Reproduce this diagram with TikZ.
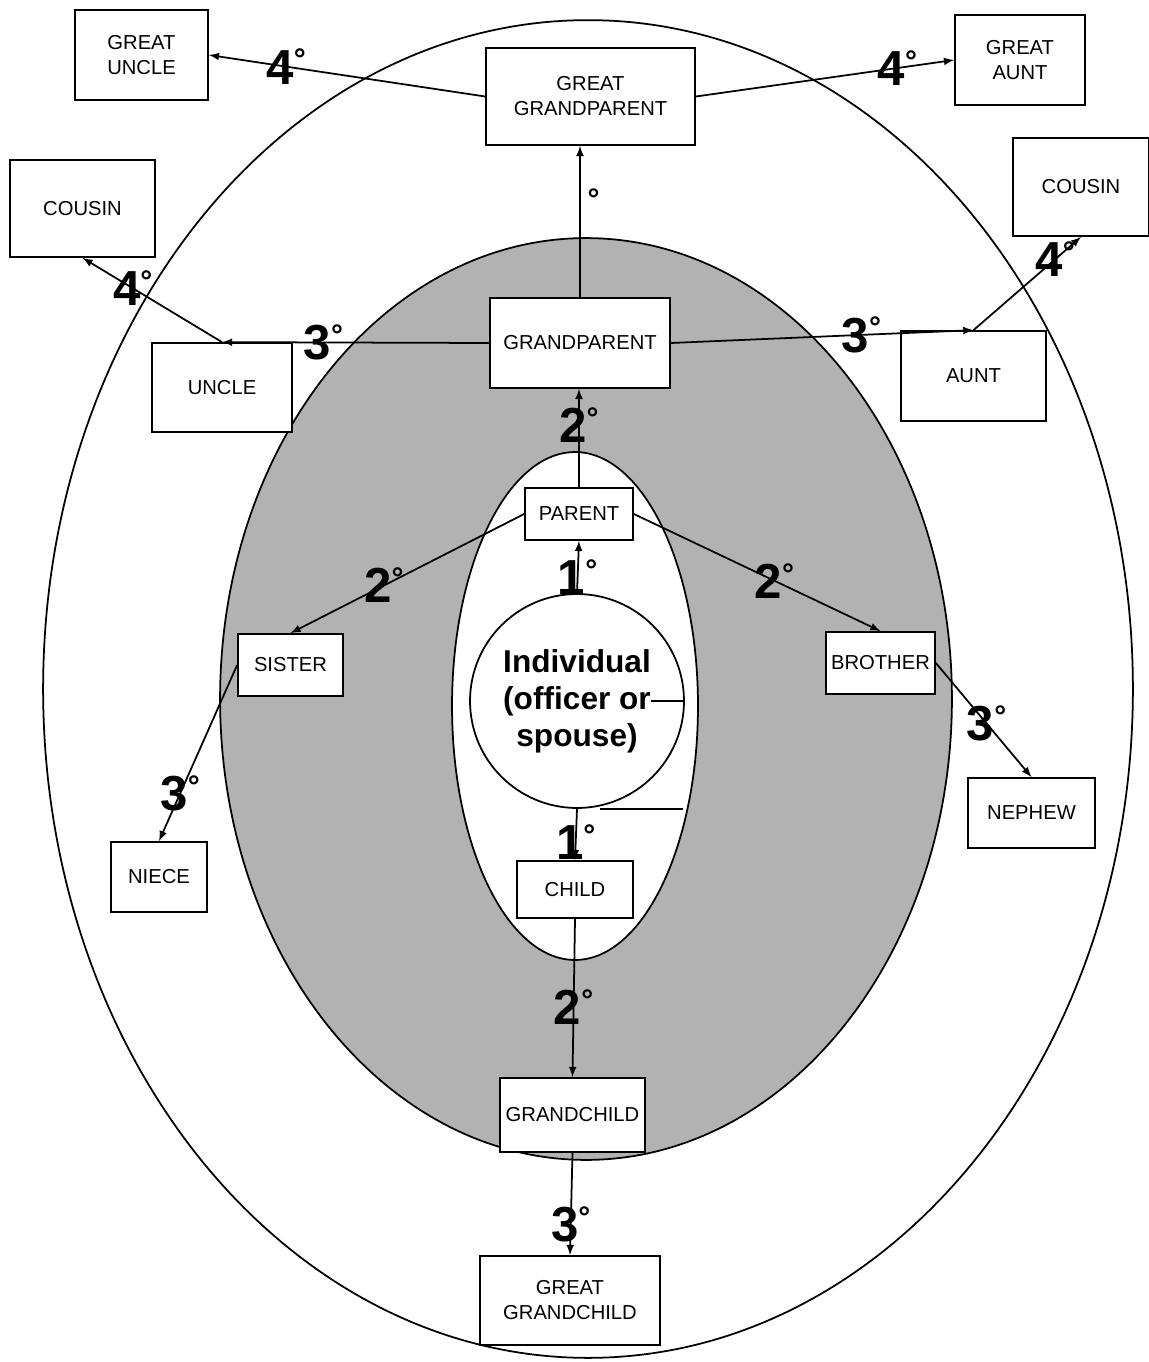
\documentclass[tikz,border=0pt]{standalone}
\usepackage{fontspec}
\setmainfont{Liberation Sans}
\usepackage{tikz}
\usetikzlibrary{arrows,shapes,calc,positioning}
\newcommand{\dgr}{\raisebox{8pt}{\fontsize{17}{17}\selectfont °}}

\begin{document}
\begin{tikzpicture}[x=0.02cm,y=-0.02cm]

        \tikzstyle{kin}=[draw,fill=white,line width=1pt,inner sep=0pt,align=center,font=\fontsize{11.5}{14.2}\selectfont]
        \tikzstyle{deg}=[font=\fontsize{28}{28}\selectfont\bfseries,inner sep=0pt]
        \tikzstyle{link}=[->,>=latex,line width=1pt]

        \useasboundingbox (0,0) rectangle (1149,1362);

        \draw[line width=1pt] (588,689) ellipse [x radius=10.9cm, y radius=13.38cm];
        \draw[line width=1pt,fill=black!30] (586,699) ellipse [x radius=7.32cm, y radius=9.22cm];
        \draw[line width=1pt,fill=white] (575,706) ellipse [x radius=2.46cm, y radius=5.08cm];

        \node[circle,draw,fill=white,line width=1pt,minimum size=4.28cm,inner sep=0pt,align=center,
              font=\fontsize{18}{21}\selectfont\bfseries] (ind) at (577,701) {Individual\\(officer or\\spouse)};

        \node[kin,minimum width=2.66cm,minimum height=1.8cm] (gu) at (141.5,55) {GREAT\\UNCLE};
        \node[kin,minimum width=4.18cm,minimum height=1.94cm] (ggp) at (590.5,96.5) {GREAT\\GRANDPARENT};
        \node[kin,minimum width=2.6cm,minimum height=1.8cm] (ga) at (1020,60) {GREAT\\AUNT};
        \node[kin,minimum width=2.9cm,minimum height=1.94cm] (cousinL) at (82.5,208.5) {COUSIN};
        \node[kin,minimum width=2.72cm,minimum height=1.96cm] (cousinR) at (1081,187) {COUSIN};
        \node[kin,minimum width=2.8cm,minimum height=1.78cm] (uncle) at (222,387.5) {UNCLE};
        \node[kin,minimum width=3.6cm,minimum height=1.8cm] (gp) at (580,343) {GRANDPARENT};
        \node[kin,minimum width=2.9cm,minimum height=1.8cm] (aunt) at (973.5,376) {AUNT};
        \node[kin,minimum width=2.16cm,minimum height=1.04cm] (parent) at (579,514) {PARENT};
        \node[kin,minimum width=2.1cm,minimum height=1.24cm] (sister) at (290.5,665) {SISTER};
        \node[kin,minimum width=2.18cm,minimum height=1.24cm] (brother) at (880.5,663) {BROTHER};
        \node[kin,minimum width=2.54cm,minimum height=1.4cm] (nephew) at (1031.5,813) {NEPHEW};
        \node[kin,minimum width=1.92cm,minimum height=1.4cm] (niece) at (159,877) {NIECE};
        \node[kin,minimum width=2.32cm,minimum height=1.14cm] (child) at (575,889.5) {CHILD};
        \node[kin,minimum width=2.9cm,minimum height=1.48cm] (gc) at (572.5,1115) {GRANDCHILD};
        \node[kin,minimum width=3.6cm,minimum height=1.78cm] (ggc) at (570,1300.5) {GREAT\\GRANDCHILD};

        \draw[link] (ggp.west) -- node[deg,pos=.72] {4\dgr} (gu.east);
        \draw[link] (ggp.east) -- node[deg,pos=.78] {4\dgr} (ga.west);
        \draw[link] (gp.north) -- node[deg,pos=.6] {\phantom{3}\dgr} (gp.north |- ggp.south);
        \draw[link] (gp.west) -- node[deg,pos=.62] {3\dgr} (uncle.north);
        \draw[link] (uncle.north) -- node[deg,pos=.64] {4\dgr} (cousinL.south);
        \draw[link] (gp.east) -- node[deg,pos=.63] {3\dgr} (aunt.north);
        \draw[link] (aunt.north) -- node[deg,pos=.76] {4\dgr} (cousinR.south);
        \draw[link] (parent.north) -- node[deg,pos=.63] {2\dgr} (parent.north |- gp.south);
        \draw[link] (ind.north) -- node[deg,pos=.3] {1\dgr} (parent.south);
        \draw[link] (parent.west) -- node[deg,pos=.6] {2\dgr} (sister.north);
        \draw[link] (parent.east) -- node[deg,pos=.57] {2\dgr} (brother.north);
        \draw[link] (sister.west) -- node[deg,pos=.73] {3\dgr} (niece.north);
        \draw[link] (brother.east) -- node[deg,pos=.53] {3\dgr} (nephew.north);
        \draw[link] (ind.south) -- node[deg,pos=.65] {1\dgr} (child.north);
        \draw[link] (child.south) -- node[deg,pos=.56] {2\dgr} (gc.north);
        \draw[link] (gc.south) -- node[deg,pos=.7] {3\dgr} (ggc.north);

        \draw[line width=1pt] (ind.east) -- ++(-34,0);
        \draw[line width=1pt] ($(ind.south)+(23,0)$) -- ++(83,0);

\end{tikzpicture}
\end{document}
